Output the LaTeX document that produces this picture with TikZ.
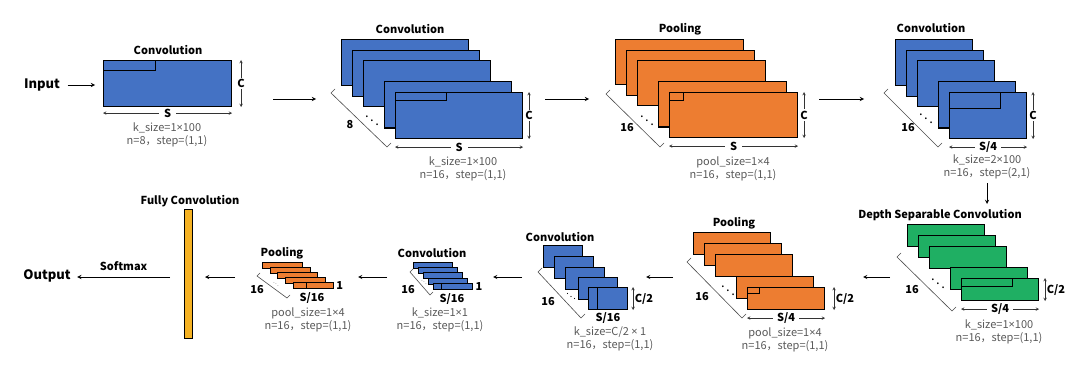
\documentclass[tikz,border=0pt]{standalone}
\usepackage{fontspec}
\setmainfont{Noto Sans CJK SC}
\newfontfamily\nsans{Noto Sans}
\newcommand{\tms}{{\nsans ×}}
\usetikzlibrary{arrows, positioning}
\definecolor{convblue}{HTML}{4472C4}
\definecolor{poolorange}{HTML}{ED7D31}
\definecolor{dsgreen}{HTML}{1FAF63}
\definecolor{fcyellow}{HTML}{F5B223}
\definecolor{txtgray}{HTML}{595959}
\tikzstyle{arrow} = [line width=0.9pt,->,>=stealth]

\begin{document}
\begin{tikzpicture}[
    x=1pt, y=-1pt,
    >=stealth,
    fmap/.style={
        draw=black,
        line width=1.1pt,
        anchor=north west,
        inner sep=0pt
    },
    kern/.style={draw=black, line width=0.9pt},
    dim/.style={<->, line width=0.5pt, draw=black!80},
    brk/.style={line width=0.6pt, draw=black!70},
    dots/.style={scale=1.3},
    title/.style={font=\fontsize{11}{13}\selectfont\bfseries},
    sym/.style={font=\fontsize{11}{13}\selectfont\bfseries, inner sep=1.5pt},
    param/.style={
        font=\fontsize{11}{13.5}\selectfont,
        text=txtgray,
        align=center
    }
  ]
  \useasboundingbox (0,0) rectangle (1080,369);

  % block 1
  \node[fmap, fill=convblue, minimum width=128pt, minimum height=46pt] (c1) at (103,60) {};
  \draw[kern] (c1.north west) rectangle ++(52,10);
  \node[title] (c1t) at (168,50) {Convolution};
  \node[font=\fontsize{13}{15}\selectfont\bfseries] (in) at (42,85) {Input};
  \draw[arrow] ([xshift=4pt]in.east) -- ([xshift=-8pt]c1.west |- in.east);
  \draw[dim] ([xshift=9pt]c1.north east) -- ([xshift=9pt]c1.south east)
      node[midway, sym, fill=white] (c1h) {C};
  \draw[dim] ([yshift=-6pt]c1.south west) -- ([yshift=-6pt]c1.south east)
      node[midway, sym, fill=white, inner xsep=5pt] (c1w) {S};
  \node[param] (c1p) at (167,135) {k\_size=1\tms100\\n=8，step=(1,1)};

  \coordinate (a12s) at (273,99);
  \coordinate (a12e) at (316,99);
  \draw[arrow] (a12s) -- (a12e);

  % block 2
  \foreach \i in {0,1,2,4,5}
    \node[fmap, fill=convblue, minimum width=127pt, minimum height=46pt] (c2-\i) at (341+10.8*\i, 39+10.6*\i) {};
  \draw[kern] (c2-5.north west) rectangle ++(51,8);
  \node[title] (c2t) at (410,29) {Convolution};
  \node[dots] (c2d) at (372,117) {$\ddots$};
  \draw[brk] (335,89) -- (331,93) -- (387,147) -- (391,143);
  \node[sym] (c2n) at (350,125) {8};
  \draw[dim] ([xshift=6pt]c2-5.north east) -- ([xshift=6pt]c2-5.south east)
      node[midway, sym, fill=white] (c2h) {C};
  \draw[dim] ([yshift=-8pt]c2-5.south west) -- ([yshift=-8pt]c2-5.south east)
      node[midway, sym, fill=white, inner xsep=5pt] (c2w) {S};
  \node[param] (c2p) at (463,169) {k\_size=1\tms100\\n=16，step=(1,1)};

  \coordinate (a23s) at (545,99);
  \coordinate (a23e) at (589,99);
  \draw[arrow] (a23s) -- (a23e);

  % block 3
  \foreach \i in {0,1,2,4,5}
    \node[fmap, fill=poolorange, minimum width=128pt, minimum height=45pt] (p3-\i) at (615+10.8*\i, 39+10.6*\i) {};
  \draw[kern] (p3-5.north west) rectangle ++(14,8);
  \node[title] (p3t) at (680,29) {Pooling};
  \node[dots] (p3d) at (647,117) {$\ddots$};
  \draw[brk] (610,90) -- (606,94) -- (660,147) -- (664,143);
  \node[sym] (p3n) at (627,128) {16};
  \draw[dim] ([xshift=6pt]p3-5.north east) -- ([xshift=6pt]p3-5.south east)
      node[midway, sym, fill=white] (p3h) {C};
  \draw[dim] ([yshift=-8pt]p3-5.south west) -- ([yshift=-8pt]p3-5.south east)
      node[midway, sym, fill=white, inner xsep=5pt] (p3w) {S};
  \node[param] (p3p) at (733,169) {pool\_size=1\tms4\\n=16，step=(1,1)};

  \coordinate (a34s) at (819,99);
  \coordinate (a34e) at (864,99);
  \draw[arrow] (a34s) -- (a34e);

  % block 4
  \foreach \i in {0,1,2,4,5}
    \node[fmap, fill=convblue, minimum width=77pt, minimum height=46pt] (c4-\i) at (895+10.8*\i, 39+10.6*\i) {};
  \draw[kern] (c4-5.north west) rectangle ++(51,16);
  \node[title] (c4t) at (931,28) {Convolution};
  \node[dots] (c4d) at (926,115) {$\ddots$};
  \draw[brk] (888,89) -- (884,93) -- (938,147) -- (942,143);
  \node[sym] (c4n) at (908,128) {16};
  \draw[dim] ([xshift=6pt]c4-5.north east) -- ([xshift=6pt]c4-5.south east)
      node[midway, sym, fill=white] (c4h) {C};
  \draw[dim] ([yshift=-8pt]c4-5.south west) -- ([yshift=-8pt]c4-5.south east)
      node[midway, sym, fill=white, inner xsep=4pt] (c4w) {S/4};
  \node[param] (c4p) at (987,167) {k\_size=2\tms100\\n=16，step=(2,1)};

  \coordinate (a45s) at (987,183);
  \coordinate (a45e) at (987,204);
  \draw[arrow] (a45s) -- (a45e);

  % block 5
  \node[title] (d5t) at (940,215) {Depth Separable Convolution};
  \foreach \i in {0,1,2,4,5}
    \node[fmap, fill=dsgreen, minimum width=77pt, minimum height=22pt] (d5-\i) at (907+10.8*\i, 224+10.8*\i) {};
  \draw[kern] (d5-5.north west) rectangle ++(51,8);
  \node[dots] (d5d) at (938,280) {$\ddots$};
  \draw[brk] (901,253) -- (897,257) -- (952,311) -- (956,307);
  \node[sym] (d5n) at (912,290) {16};
  \draw[dim] ([xshift=6pt]d5-5.north east) -- ([xshift=6pt]d5-5.south east)
      node[midway, right, sym] (d5h) {C/2};
  \draw[dim] ([yshift=-8pt]d5-5.south west) -- ([yshift=-8pt]d5-5.south east)
      node[midway, sym, fill=white, inner xsep=4pt] (d5w) {S/4};
  \node[param] (d5p) at (999,332) {k\_size=1\tms100\\n=16，step=(1,1)};

  \coordinate (a56s) at (890,277);
  \coordinate (a56e) at (863,277);
  \draw[arrow] (a56s) -- (a56e);

  % block 6
  \node[title] (p6t) at (734,223) {Pooling};
  \foreach \i in {0,1,2,4,5}
    \node[fmap, fill=poolorange, minimum width=77pt, minimum height=22pt] (p6-\i) at (693+10.8*\i, 232+11*\i) {};
  \draw[kern] (p6-5.north west) rectangle ++(12,6);
  \node[dots] (p6d) at (728,287) {$\ddots$};
  \draw[brk] (691,258) -- (687,262) -- (742,318) -- (746,314);
  \node[sym] (p6n) at (702,297) {16};
  \draw[dim] ([xshift=9pt]p6-5.north east) -- ([xshift=9pt]p6-5.south east)
      node[midway, right, sym] (p6h) {C/2};
  \draw[dim] ([yshift=-8pt]p6-5.south west) -- ([yshift=-8pt]p6-5.south east)
      node[midway, sym, fill=white, inner xsep=4pt] (p6w) {S/4};
  \node[param] (p6p) at (785,340) {pool\_size=1\tms4\\n=16，step=(1,1)};

  \coordinate (a67s) at (673,277);
  \coordinate (a67e) at (646,277);
  \draw[arrow] (a67s) -- (a67e);

  % block 7
  \node[title] (c7t) at (560,237) {Convolution};
  \foreach \i/\dx/\dy in {0/0/0, 1/11/11, 2/22/22, 3/35/32, 4/45/42}
    \node[fmap, fill=convblue, minimum width=39pt, minimum height=22pt] (c7-\i) at (543+\dx, 245+\dy) {};
  \draw[kern] ([xshift=9pt]c7-4.north west) -- ([xshift=9pt]c7-4.south west);
  \node[scale=0.9] (c7d) at (571,294) {$\ddots$};
  \draw[brk] (542,268) -- (538,272) -- (581,318) -- (585,314);
  \node[sym] (c7n) at (548,302) {16};
  \draw[dim] ([xshift=5pt]c7-4.north east) -- ([xshift=5pt]c7-4.south east)
      node[midway, right, sym] (c7h) {C/2};
  \node[sym] (c7w) at (608,318) {S/16};
  \node[param] (c7p) at (610,339) {k\_size=C/2 \tms\ 1\\n=16，step=(1,1)};

  \coordinate (a78s) at (522,277);
  \coordinate (a78e) at (493,277);
  \draw[arrow] (a78s) -- (a78e);

  % block 8
  \node[title] (c8t) at (432,253) {Convolution};
  \foreach \i in {0,...,4}
    \node[fmap, fill=convblue, line width=0.9pt, minimum width=39pt, minimum height=6pt] (c8-\i) at (413+5*\i, 262+5.2*\i) {};
  \draw[kern] (441,283) -- (441,289);
  \node[scale=0.5] (c8d) at (424,281) {$\ddots$};
  \draw[brk] (413,269) -- (410,272) -- (430,295) -- (433,292);
  \node[sym] (c8n) at (408,290) {16};
  \node[sym, right=1pt of c8-4] (c8h) {1};
  \node[sym] (c8w) at (452,299) {S/16};
  \node[param] (c8p) at (440,320) {k\_size=1\tms1\\n=16，step=(1,1)};

  \coordinate (a89s) at (387,277);
  \coordinate (a89e) at (358,277);
  \draw[arrow] (a89s) -- (a89e);

  % block 9
  \node[title] (p9t) at (282,253) {Pooling};
  \foreach \i in {0,...,4}
    \node[fmap, fill=poolorange, line width=0.9pt, minimum width=40pt, minimum height=6pt] (p9-\i) at (262+7.7*\i, 262+5*\i) {};
  \draw[kern] (306,282) -- (306,288);
  \node[scale=0.5] (p9d) at (276,283) {$\ddots$};
  \draw[brk] (260,273) -- (257,276) -- (287,298) -- (290,295);
  \node[sym] (p9n) at (257,290) {16};
  \node[sym, right=1pt of p9-4] (p9h) {1};
  \node[sym] (p9w) at (312,298) {S/16};
  \node[param] (p9p) at (308,320) {pool\_size=1\tms4\\n=16，step=(1,1)};

  \coordinate (a9fs) at (235,277);
  \coordinate (a9fe) at (205,277);
  \draw[arrow] (a9fs) -- (a9fe);

  % fully convolution + output
  \node[fmap, fill=fcyellow, line width=0.9pt, minimum width=8pt, minimum height=129pt] (fc) at (184,209) {};
  \node[title] (fct) at (190,201) {Fully Convolution};
  \node[font=\fontsize{13}{15}\selectfont\bfseries] (out) at (47,276) {Output};
  \coordinate (afos) at (170,277);
  \draw[arrow] (afos) -- ([xshift=3pt]out.east |- afos)
      node[midway, above=3pt, title] (smx) {Softmax};
\end{tikzpicture}
\end{document}
